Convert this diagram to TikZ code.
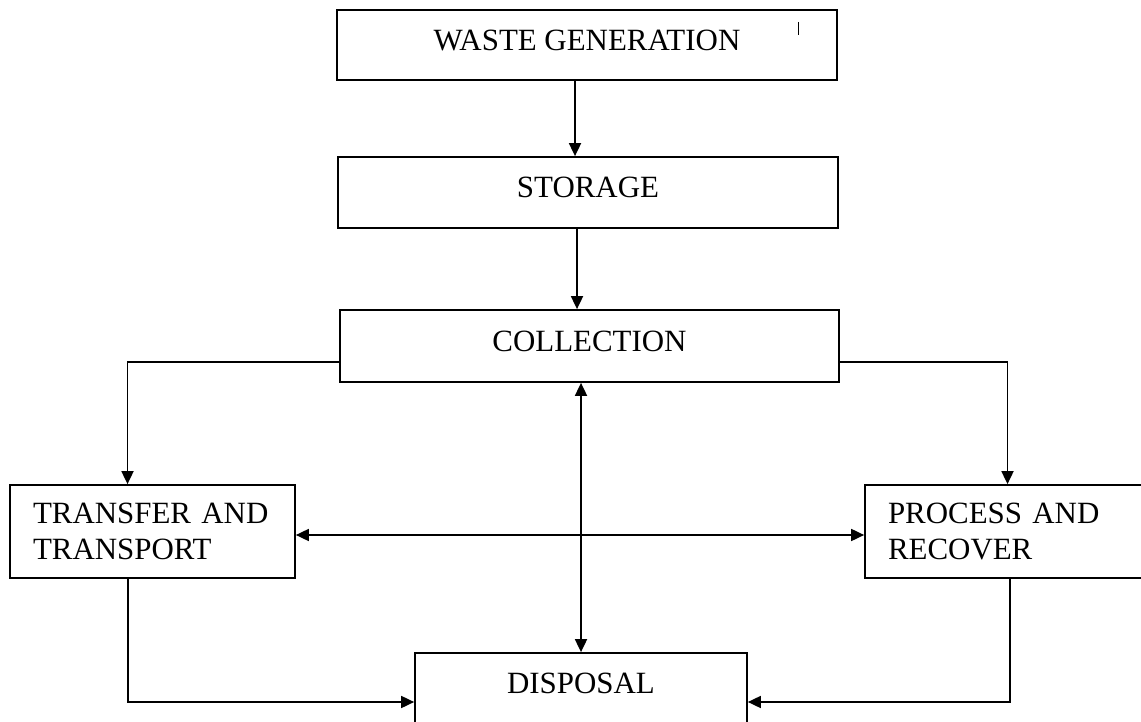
\documentclass[tikz,border=0pt]{standalone}
\usepackage{fontspec}
\setmainfont{Liberation Serif}
\usetikzlibrary{arrows.meta}

\begin{document}
\begin{tikzpicture}[x=0.02cm,y=-0.02cm,
  box/.style={draw,line width=1pt,inner sep=0pt,text depth=0.2cm,font=\fontsize{17.6}{20.5}\selectfont},
  twoline/.style={draw,line width=1pt,align=left,text width=4.78cm,inner xsep=0.46cm,minimum height=1.86cm,font=\fontsize{17.6}{20.5}\selectfont},
  arr/.style={line width=1pt,-{Triangle[length=0.26cm,width=0.24cm]}},
  dbl/.style={line width=1pt,{Triangle[length=0.26cm,width=0.24cm]}-{Triangle[length=0.26cm,width=0.24cm]}}]
  \useasboundingbox (0,0) rectangle (1141,722);
  \node[box,minimum width=10cm,minimum height=1.4cm] (wg) at (587,45) {WASTE GENERATION};
  \node[box,minimum width=10cm,minimum height=1.42cm] (storage) at (588,192.5) {STORAGE};
  \node[box,minimum width=9.98cm,minimum height=1.44cm] (coll) at (589.5,346) {COLLECTION};
  \node[twoline] (tt) at (152.5,531.5) {TRANSFER AND\\TRANSPORT};
  \node[twoline] (pr) at (1007.5,531.5) {PROCESS AND\\RECOVER};
  \node[box,minimum width=6.64cm,minimum height=1.42cm] (disp) at (581,688.5) {DISPOSAL};
  \draw (798,22)--(798,35);
  \draw[arr] ([xshift=-0.24cm]wg.south) -- ([xshift=-0.24cm]wg.south |- storage.north);
  \draw[arr] ([xshift=-0.22cm]storage.south) -- ([xshift=-0.22cm]storage.south |- coll.north);
  \draw[arr] ([yshift=-0.32cm]coll.west) -| ([xshift=-0.5cm]tt.north);
  \draw[arr] ([yshift=-0.32cm]coll.east) -| (pr.north);
  \draw[dbl] (coll.south -| disp.north) -- (disp.north);
  \draw[dbl] ([yshift=-0.07cm]tt.east) -- ([yshift=-0.07cm]pr.west);
  \draw[arr] ([xshift=-0.49cm]tt.south) |- ([yshift=-0.27cm]disp.west);
  \draw[arr] ([xshift=0.05cm]pr.south) |- ([yshift=-0.27cm]disp.east);
\end{tikzpicture}
\end{document}
